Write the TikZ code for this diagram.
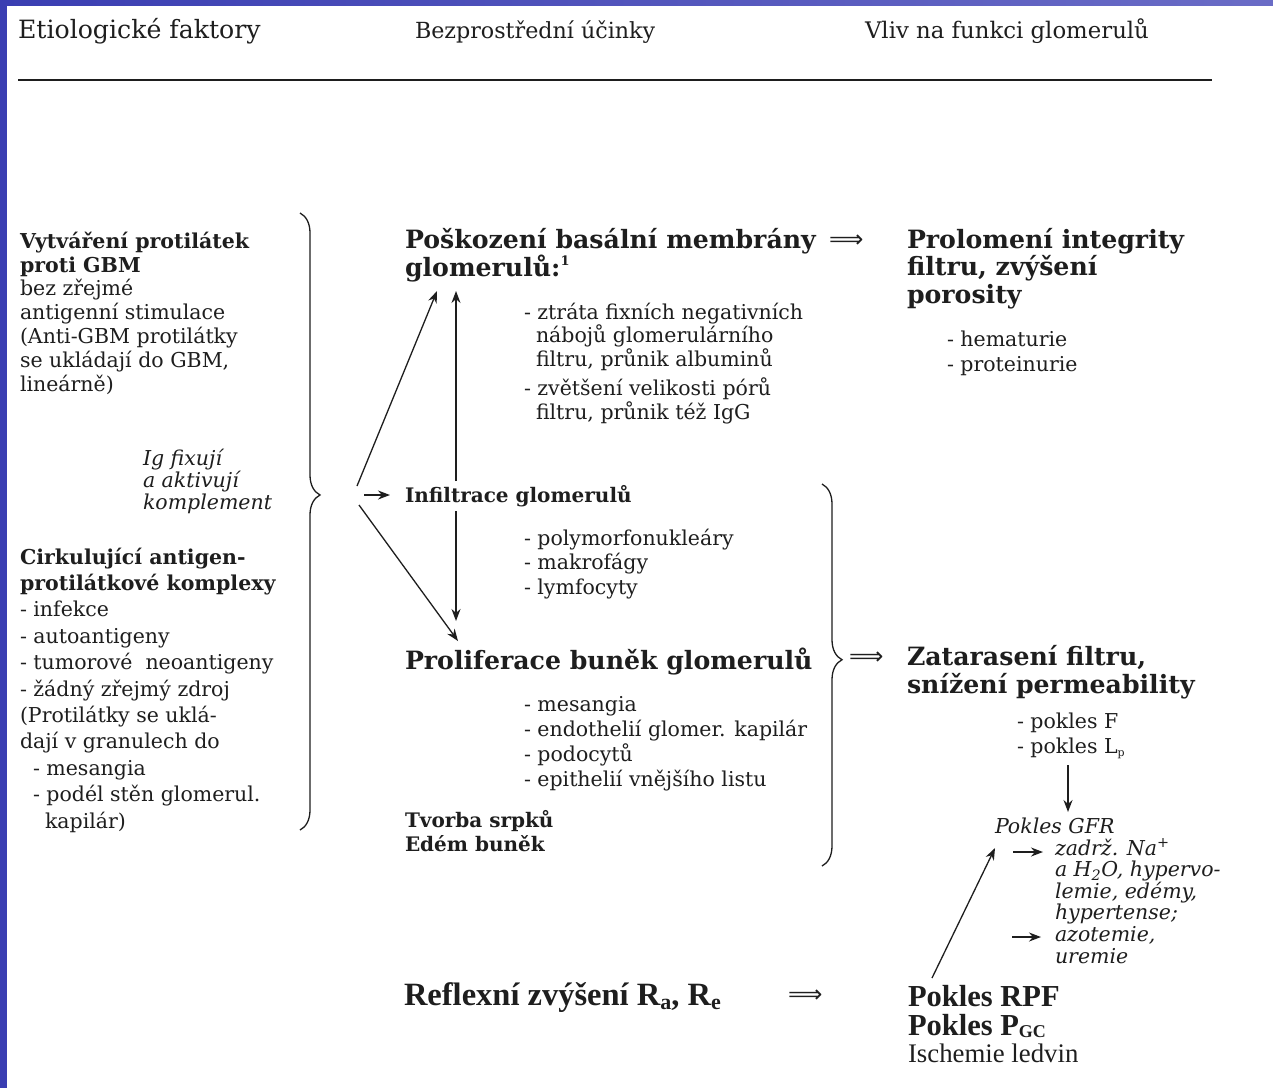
\documentclass[tikz,border=0pt]{standalone}
\usepackage{fontspec}
\setmainfont{DejaVu Serif}
\newfontfamily\timesfont{Liberation Serif}
\newfontfamily\arrowfont{DejaVu Sans}
\usetikzlibrary{arrows.meta,decorations.pathreplacing,positioning}

\definecolor{ink}{HTML}{1E1E1E}
\definecolor{slideleft}{HTML}{3A3EB2}
\definecolor{slidetop}{HTML}{6A6CC6}

\newcommand{\lowidx}[2][21]{\raisebox{-4pt}{\fontsize{#1}{#1}\selectfont #2}}

\tikzset{
  every node/.style={inner sep=0pt,outer sep=0pt,text=ink},
  head text/.style={anchor=base west,font=\fontsize{#1}{28}\selectfont},
  plain text/.style={anchor=base west,align=left,font=\fontsize{20.5}{24}\selectfont},
  bold text/.style={anchor=base west,align=left,font=\fontsize{20}{24}\selectfont\bfseries},
  big text/.style={anchor=base west,align=left,font=\fontsize{25.2}{27.5}\selectfont\bfseries},
  note text/.style={anchor=base west,align=left,font=\fontsize{20.5}{21.6}\selectfont\itshape},
  times bold/.style={anchor=base west,align=left,font=\fontsize{31}{29}\selectfont\timesfont\bfseries},
  times text/.style={anchor=base west,font=\fontsize{26.8}{28}\selectfont\timesfont},
  implies/.style={anchor=west,font=\fontsize{24}{24}\selectfont\arrowfont},
  curly/.style={decorate,line width=1.3pt,draw=ink},
}

\begin{document}
\begin{tikzpicture}[x=1pt,y=-1pt,>={Stealth[length=12pt,width=9pt]},
                    line width=1.3pt,draw=ink]
\useasboundingbox (0,0) rectangle (1273,1088);
% slide background
\fill[white] (0,0) rectangle (1273,1088);
\shade[left color=slideleft,right color=slidetop] (0,0) rectangle (1273,5);
\fill[slideleft] (0,0) rectangle (7,1088);

% column headings (nodes sit on the baseline of their last line)
\node[head text=25.2] (hEtio) at (18,38) {Etiologické faktory};
\node[head text=22.2] (hUcin) at (415,38) {Bezprostřední účinky};
\node[head text=22.8] (hVliv) at (865,38) {Vliv na funkci glomerulů};
\draw[line width=1.3pt] (18,80) -- (1212,80);

% etiologic factors
\node[plain text,font=\fontsize{20.5}{23.8}\selectfont] (antiGBM) at (20,391)
  {\textbf{Vytváření protilátek}\\\textbf{proti GBM}\\bez zřejmé\\antigenní stimulace\\(Anti-GBM protilátky\\se ukládají do GBM,\\lineárně)};
\node[note text] (kompl) at (143,509) {Ig fixují\\a aktivují\\komplement};
\node[plain text,font=\fontsize{20.5}{26.4}\selectfont] (komplexy) at (20,828)
  {\textbf{Cirkulující antigen-}\\\textbf{protilátkové komplexy}\\- infekce\\- autoantigeny\\- tumorové~ neoantigeny\\- žádný zřejmý zdroj\\(Protilátky se uklá-\\dají v granulech do\\\hspace*{13pt}- mesangia\\\hspace*{13pt}- podél stěn glomerul.\\\hspace*{25pt}kapilár)};
\draw[curly,decoration={brace,amplitude=20pt,aspect=0.457}] (300,213) -- (300,830);

% immediate effects
\node[big text] (membrana) at (405,276)
  {Poškození basální membrány\\glomerulů:\raisebox{11pt}{\fontsize{13}{13}\selectfont 1}};
\node[plain text,font=\fontsize{20.5}{22}\selectfont] (naboje) at (524,366)
  {- ztráta fixních negativních\\\hspace*{12pt}nábojů glomerulárního\\\hspace*{12pt}filtru, průnik albuminů};
\node[plain text,font=\fontsize{20.5}{21}\selectfont] (pory) at (524,419)
  {- zvětšení velikosti pórů\\\hspace*{12pt}filtru, průnik též IgG};
\node[bold text] (infil) at (405,502) {Infiltrace glomerulů};
\node[plain text,font=\fontsize{20.5}{24.5}\selectfont] (bunky) at (524,594)
  {- polymorfonukleáry\\- makrofágy\\- lymfocyty};
\node[big text] (prolif) at (405,669) {Proliferace buněk glomerulů};
\node[plain text,font=\fontsize{20.5}{25}\selectfont] (typy) at (524,786)
  {- mesangia\\- endothelií glomer. kapilár\\- podocytů\\- epithelií vnějšího listu};
\node[bold text] (srpky) at (405,851) {Tvorba srpků\\Edém buněk};
\draw[curly,decoration={brace,amplitude=20pt,aspect=0.46}] (822,484) -- (822,866);

\coordinate (hubU) at (357,486);
\coordinate (hubR) at (364,495);
\coordinate (hubD) at (359,505);
\coordinate (memDiag) at (437,291);
\coordinate (memVert) at (456,291);
\coordinate (infTop) at (456,481);
\coordinate (infIn) at (390,495);
\coordinate (infBot) at (456,511);
\coordinate (prolVert) at (456,621);
\coordinate (prolDiag) at (458,641);

\draw[->] (hubU) -- (memDiag);
\draw[->] (infTop) -- (memVert);
\draw[->] (hubR) -- (infIn);
\draw[->] (infBot) -- (prolVert);
\draw[->] (hubD) -- (prolDiag);

% consequences for glomerular function
\node[implies] (impl1) at (829,241) {⟹};
\node[big text] (integrita) at (907,303) {Prolomení integrity\\filtru, zvýšení\\porosity};
\node[plain text,font=\fontsize{20.5}{25}\selectfont] (uria) at (947,371) {- hematurie\\- proteinurie};
\node[implies] (impl2) at (849,658) {⟹};
\node[big text] (zatar) at (907,693) {Zatarasení filtru,\\snížení permeability};
\node[plain text,font=\fontsize{20.5}{25}\selectfont] (pokles) at (1017,753)
  {- pokles F\\- pokles L\raisebox{-3pt}{\fontsize{11}{11}\selectfont p}};
\node[note text] (gfr) at (995,833) {Pokles GFR};
\node[note text] (nadrz) at (1055,963)
  {zadrž. Na\textsuperscript{+}\\a H\textsubscript{2}O, hypervo-\\lemie, edémy,\\hypertense;\\azotemie,\\uremie};

\node[times bold,font=\fontsize{32.5}{29}\selectfont\timesfont\bfseries] (reflex) at (404,1005)
  {Reflexní zvýšení R\lowidx[22]{a}, R\lowidx[22]{e}};
\node[implies] (impl3) at (788,996) {⟹};
\node[times bold,font=\fontsize{30.5}{28.5}\selectfont\timesfont\bfseries] (rpf) at (908,1035)
  {Pokles RPF\\Pokles P\raisebox{-2.5pt}{\fontsize{18}{18}\selectfont GC}};
\node[times text] (ischemie) at (908,1062) {Ischemie ledvin};

\coordinate (lpBot) at (1068,765);
\coordinate (gfrTop) at (1068,812);
\coordinate (naFrom) at (1013,852);
\coordinate (naTo) at (1043,852);
\coordinate (azFrom) at (1012,937);
\coordinate (azTo) at (1041,937);
\coordinate (rpfTop) at (932,978);
\coordinate (gfrIn) at (995,848);

\draw[->] (lpBot) -- (gfrTop);
\draw[->] (naFrom) -- (naTo);
\draw[->] (azFrom) -- (azTo);
\draw[->] (rpfTop) -- (gfrIn);
\end{tikzpicture}
\end{document}
